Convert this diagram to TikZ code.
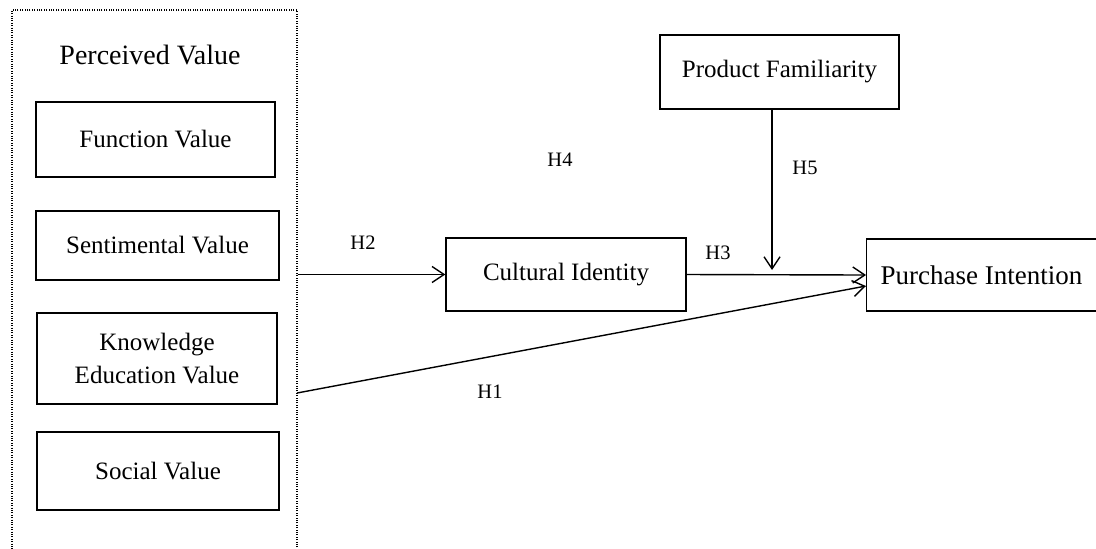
\documentclass[tikz,border=0pt]{standalone}
\usepackage{fontspec}
\setmainfont{Liberation Serif}
\usetikzlibrary{arrows.meta, positioning}

\begin{document}
\begin{tikzpicture}[
  x=0.5pt, y=-0.5pt,
  >={Straight Barb[length=6pt, width=8pt]},
  box/.style={rectangle, draw, line width=0.7pt, inner sep=0pt, align=center,
    font=\fontsize{12.5}{16.5}\selectfont},
  hyp/.style={font=\fontsize{10.25}{12}\selectfont},
  link/.style={->, line width=0.7pt}
]
\useasboundingbox (0,0) rectangle (1096,548);

% perceived value group
\node[draw, line width=0.7pt, dash pattern=on 0.5pt off 0.7pt, minimum width=142.5pt,
  minimum height=275pt, inner sep=0pt] (pvbox) at (154.5,285) {};
\node[font=\fontsize{14}{16}\selectfont] (pvtitle) at (150,55) {Perceived Value};
\node[box, minimum width=119.5pt, minimum height=37.5pt] (fv) at (155.5,139.5) {Function Value};
\node[box, minimum width=121.5pt, minimum height=34.5pt] (sv) at (157.5,245.5) {Sentimental Value};
\node[box, minimum width=120pt, minimum height=45.5pt] (kv) at (157,358.5) {Knowledge\\Education Value};
\node[box, minimum width=121pt, minimum height=39pt] (so) at (158,471) {Social Value};

% other constructs
\node[box, minimum width=120pt, minimum height=36.5pt] (ci) at (566,274.5) {Cultural Identity};
\node[box, minimum width=119.5pt, minimum height=37pt] (pf) at (779.5,72) {Product Familiarity};
\node[box, anchor=west, inner xsep=7pt, text width=106pt, align=flush left, minimum height=36pt,
  font=\fontsize{13.5}{16}\selectfont] (pi) at (866,275) {Purchase Intention};

\coordinate (kvout) at (297,393);
\coordinate (mod) at (772,270);

\draw[link] (pvbox.east |- ci) -- (ci.west);
\draw[link] (ci.east) -- (pi.west);
\draw[link] (kvout) -- ([yshift=-5.5pt]pi.west);
\draw[link] (pf.south -| mod) -- (mod);

% hypothesis labels
\node[hyp] (h1) at (490,392) {H1};
\node[hyp] (h2) at (363,243) {H2};
\node[hyp] (h3) at (718,253) {H3};
\node[hyp] (h4) at (560,160) {H4};
\node[hyp] (h5) at (805,168) {H5};
\end{tikzpicture}
\end{document}
